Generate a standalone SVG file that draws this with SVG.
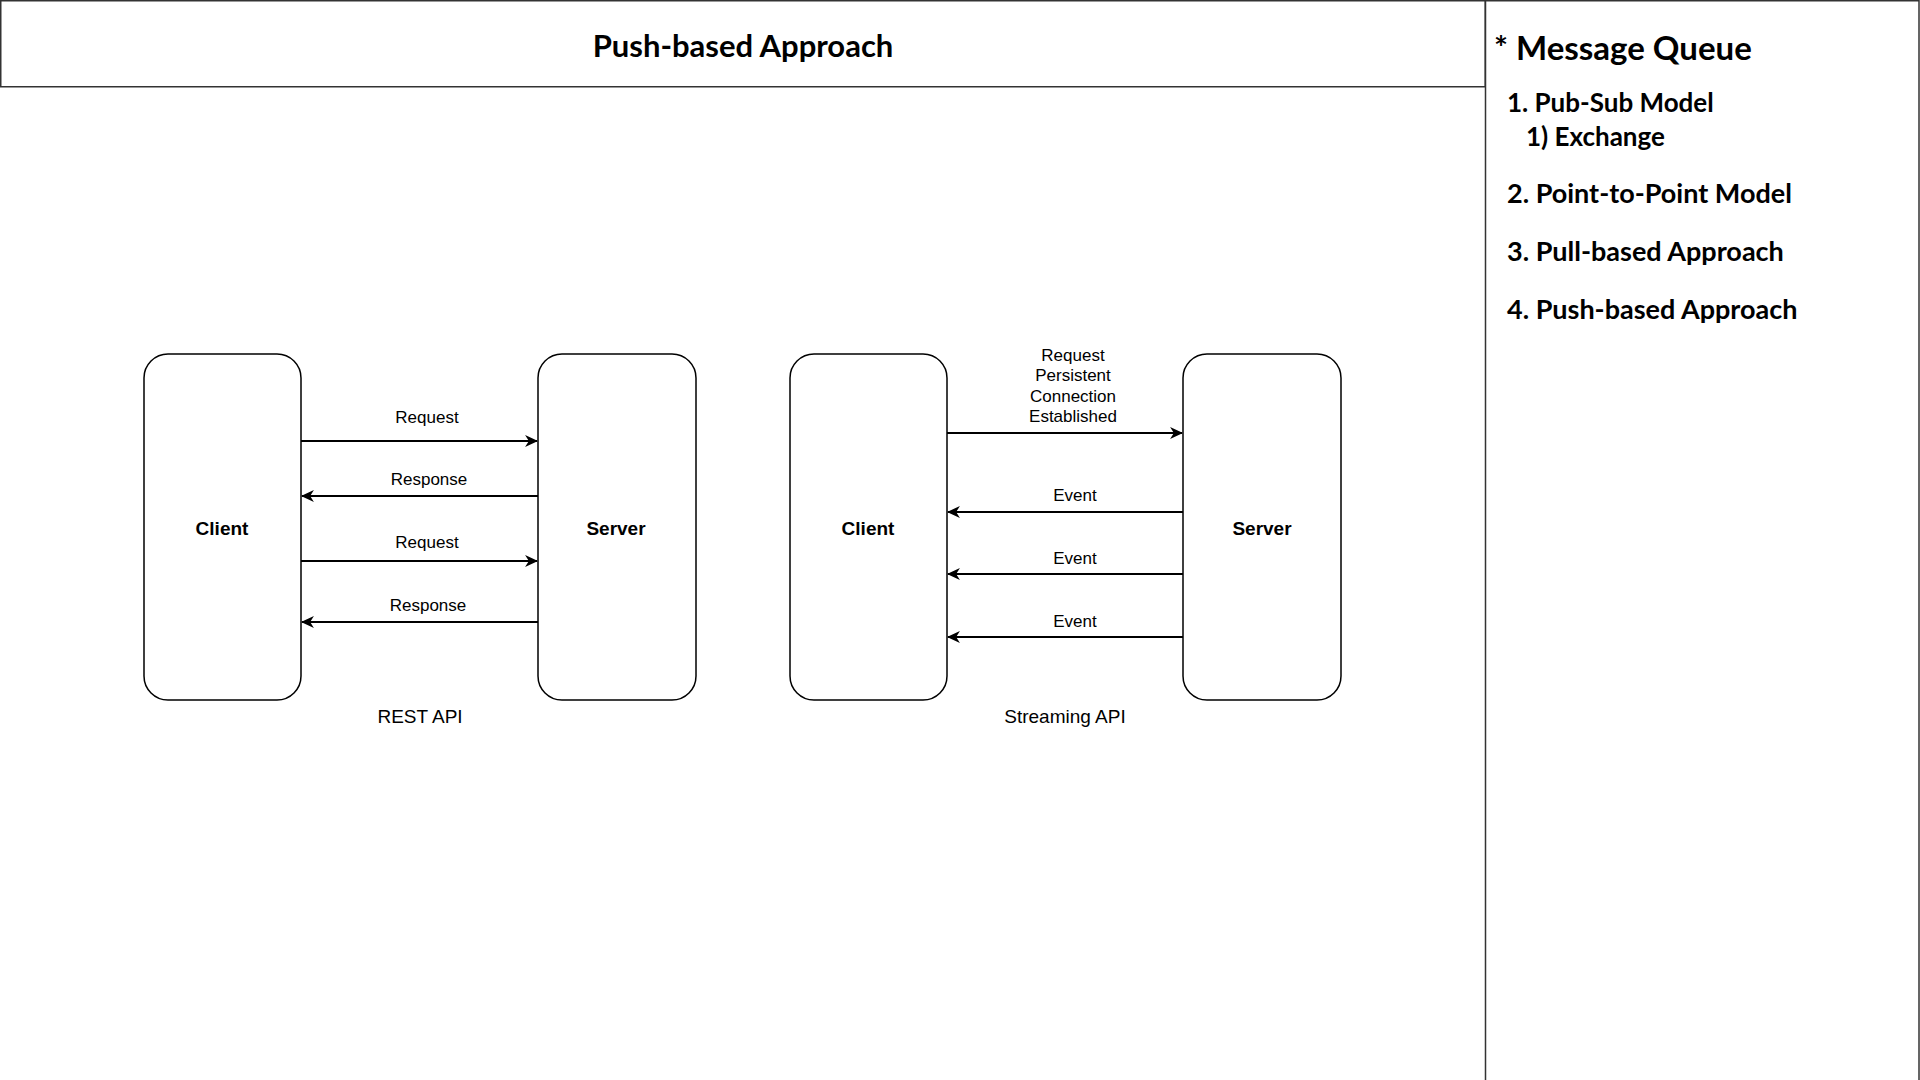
<svg xmlns="http://www.w3.org/2000/svg" width="1920" height="1080" viewBox="0 0 1920 1080">
<style>
.frame{fill:#fff;stroke:#333;stroke-width:1.5}
.node{fill:#fff;stroke:#000;stroke-width:1.5}
.edge{stroke:#000;stroke-width:1.8;fill:none}
.lbl{font-family:"Liberation Sans",Arial,sans-serif;font-size:17px;fill:#000;text-anchor:middle}
.nt{font-family:"Liberation Sans",Arial,sans-serif;font-size:19px;font-weight:bold;fill:#000;text-anchor:middle}
.cap{font-family:"Liberation Sans",Arial,sans-serif;font-size:19px;fill:#000;text-anchor:middle}
.hand{font-family:Lato,"Noto Sans",sans-serif;font-weight:bold;fill:#000}
</style>
<defs>
<marker id="ah" viewBox="0 0 12 12" refX="11" refY="6" markerWidth="13" markerHeight="13" markerUnits="userSpaceOnUse" orient="auto">
<path d="M0,0.5 L12,6 L0,11.5 L3.5,6 Z" fill="#000"/>
</marker>
</defs>
<rect width="1920" height="1080" fill="#fff"/>
<g id="title-box">
<rect class="frame" x="0.75" y="0.75" width="1484.5" height="86"/>
<text class="hand" x="743" y="45" font-size="31" text-anchor="middle" dominant-baseline="central">Push-based Approach</text>
</g>
<g id="side-panel">
<rect class="frame" x="1485.5" y="0.75" width="433.5" height="1082"/>
<text class="hand" x="1494" y="47" font-size="33" dominant-baseline="central">* Message Queue</text>
<text class="hand" x="1507" y="102" font-size="26" dominant-baseline="central">1.  Pub-Sub Model</text>
<text class="hand" x="1526" y="136" font-size="26" dominant-baseline="central">1) Exchange</text>
<text class="hand" x="1507" y="192" font-size="27" dominant-baseline="central">2. Point-to-Point Model</text>
<text class="hand" x="1507" y="250" font-size="27" dominant-baseline="central">3. Pull-based Approach</text>
<text class="hand" x="1507" y="308" font-size="27" dominant-baseline="central">4. Push-based Approach</text>
</g>
<g id="rest-client">
<rect class="node" x="144" y="354" width="157" height="346" rx="24"/>
<text class="nt" x="222" y="528" dominant-baseline="central">Client</text>
</g>
<g id="rest-server">
<rect class="node" x="538" y="354" width="158" height="346" rx="24"/>
<text class="nt" x="616" y="528" dominant-baseline="central">Server</text>
</g>
<g id="stream-client">
<rect class="node" x="790" y="354" width="157" height="346" rx="24"/>
<text class="nt" x="868" y="528" dominant-baseline="central">Client</text>
</g>
<g id="stream-server">
<rect class="node" x="1183" y="354" width="158" height="346" rx="24"/>
<text class="nt" x="1262" y="528" dominant-baseline="central">Server</text>
</g>
<g id="captions">
<text class="cap" x="420" y="716" dominant-baseline="central">REST API</text>
<text class="cap" x="1065" y="716" dominant-baseline="central">Streaming API</text>
</g>
<g id="connectors">
<line class="edge" x1="301" y1="441" x2="537" y2="441" marker-end="url(#ah)"/>
<line class="edge" x1="538" y1="496" x2="302" y2="496" marker-end="url(#ah)"/>
<line class="edge" x1="301" y1="561" x2="537" y2="561" marker-end="url(#ah)"/>
<line class="edge" x1="538" y1="622" x2="302" y2="622" marker-end="url(#ah)"/>
<line class="edge" x1="947" y1="433" x2="1182" y2="433" marker-end="url(#ah)"/>
<line class="edge" x1="1183" y1="512" x2="948" y2="512" marker-end="url(#ah)"/>
<line class="edge" x1="1183" y1="574" x2="948" y2="574" marker-end="url(#ah)"/>
<line class="edge" x1="1183" y1="637" x2="948" y2="637" marker-end="url(#ah)"/>
<text class="lbl" x="427" y="417" dominant-baseline="central">Request</text>
<text class="lbl" x="429" y="479" dominant-baseline="central">Response</text>
<text class="lbl" x="427" y="542" dominant-baseline="central">Request</text>
<text class="lbl" x="428" y="605" dominant-baseline="central">Response</text>
<text class="lbl" x="1073" y="355" dominant-baseline="central">Request</text>
<text class="lbl" x="1073" y="375" dominant-baseline="central">Persistent</text>
<text class="lbl" x="1073" y="396" dominant-baseline="central">Connection</text>
<text class="lbl" x="1073" y="416" dominant-baseline="central">Established</text>
<text class="lbl" x="1075" y="495" dominant-baseline="central">Event</text>
<text class="lbl" x="1075" y="558" dominant-baseline="central">Event</text>
<text class="lbl" x="1075" y="621" dominant-baseline="central">Event</text>
</g>
</svg>
